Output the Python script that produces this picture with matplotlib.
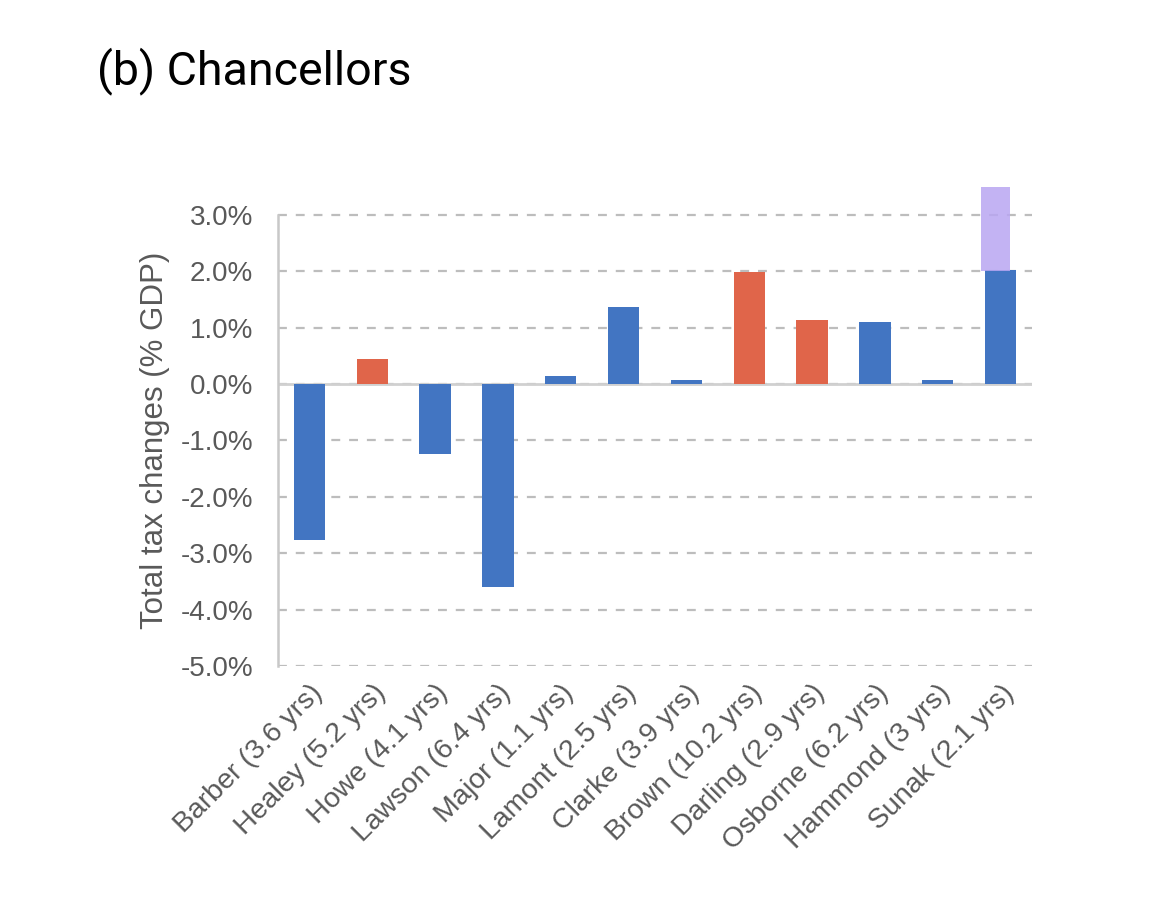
import matplotlib
matplotlib.use("Agg")
import matplotlib.pyplot as plt
from matplotlib.ticker import FuncFormatter

# data (% of GDP)
chancellors = ["Barber (3.6 yrs)", "Healey (5.2 yrs)", "Howe (4.1 yrs)", "Lawson (6.4 yrs)",
               "Major (1.1 yrs)", "Lamont (2.5 yrs)", "Clarke (3.9 yrs)", "Brown (10.2 yrs)",
               "Darling (2.9 yrs)", "Osborne (6.2 yrs)", "Hammond (3 yrs)", "Sunak (2.1 yrs)"]
tax_change = [-2.76, 0.44, -1.25, -3.6, 0.15, 1.37, 0.07, 1.98, 1.13, 1.10, 0.07, 2.02]
party = ["con", "lab", "con", "con", "con", "con", "con", "lab", "lab", "con", "con", "con"]
# highlighted extension on Sunak bar
sunak_extra_bottom = 2.0
sunak_extra_top = 3.5

y_ticks = [-5, -4, -3, -2, -1, 0, 1, 2, 3]

colours = {"con": "#4275c2", "lab": "#e0654a"}
grey = "#595959"

plt.rcParams['font.family'] = ['Liberation Sans', 'DejaVu Sans']

fig = plt.figure(figsize=(11.7, 9.19), dpi=100)
ax = fig.add_axes([0.2376, 0.2753, 0.6444, 0.5278])

x = list(range(len(chancellors)))
ax.bar(x, tax_change, width=0.5, color=[colours[p] for p in party], zorder=3)

# purple highlighter stroke over the Sunak bar
ax.bar(x[-1] - 0.08, sunak_extra_top - sunak_extra_bottom, bottom=sunak_extra_bottom,
       width=0.46, color="#b9a6f2", alpha=0.85, zorder=4)

ax.set_xlim(-0.5, len(chancellors) - 0.5)
ax.set_ylim(-5, 3.6)
ax.set_yticks(y_ticks)
ax.yaxis.set_major_formatter(FuncFormatter(lambda v, _: f"{v:.1f}%"))
ax.yaxis.grid(True, linestyle=(0, (4, 4)), color="#bdbdbd", linewidth=1.6, zorder=0)
ax.axhline(0, color="#d0d0d0", linewidth=2, zorder=2)

for s in ["top", "right", "bottom"]:
    ax.spines[s].set_visible(False)
ax.spines["left"].set_color("#c8c8c8")
ax.spines["left"].set_linewidth(1.8)
ax.spines["left"].set_bounds(-5, 3)

ax.tick_params(axis="y", length=0, pad=18, labelsize=20, labelcolor=grey)
ax.tick_params(axis="x", length=0, pad=10, labelsize=20.5, labelcolor=grey)
ax.set_xticks(x)
ax.set_xticklabels(chancellors, rotation=45, ha="right", rotation_mode="anchor")

ax.set_ylabel("Total tax changes (% GDP)", fontsize=22.5, color=grey)
ax.yaxis.set_label_coords(-0.143, 0.465)

fig.text(0.083, 0.908, "(b) Chancellors", fontsize=33.5, family=["Roboto", "DejaVu Sans"],
         color="black", va="baseline")

fig.savefig("out.png", dpi=100, facecolor="white")
